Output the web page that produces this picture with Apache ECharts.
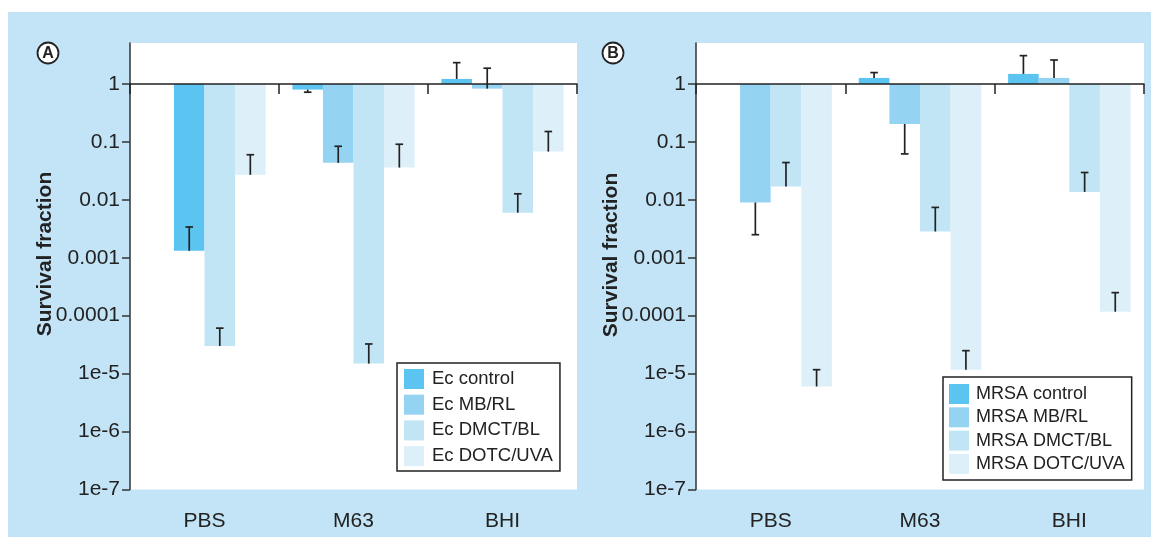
<!DOCTYPE html>
<html><head><meta charset="utf-8">
<script src="https://cdn.jsdelivr.net/npm/echarts@6/dist/echarts.min.js"></script>
<style>html,body{margin:0;padding:0;background:#fff}#c{width:1159px;height:543px}</style>
</head><body><div id="c"></div>
<script>
// ---- data ----
const categories = ['PBS', 'M63', 'BHI'];
const yTickValues = [1e-7, 1e-6, 1e-5, 1e-4, 1e-3, 1e-2, 1e-1, 1];
const yTickLabels = ['1e-7', '1e-6', '1e-5', '0.0001', '0.001', '0.01', '0.1', '1'];
const seriesNamesA = ['Ec control', 'Ec MB/RL', 'Ec DMCT/BL', 'Ec DOTC/UVA'];
const seriesNamesB = ['MRSA control', 'MRSA MB/RL', 'MRSA DMCT/BL', 'MRSA DOTC/UVA'];
const yTitle = 'Survival fraction';

// Panel A survival fractions (PBS, M63, BHI)
const ecControl = [null, 0.80, 1.22];
const ecMBRL    = [0.00132, 0.0435, 0.83];
const ecDMCT    = [3.0e-5, 1.49e-5, 0.0060];
const ecDOTC    = [0.027, 0.036, 0.068];
// Panel A error-bar end values
const ecControlErr = [null, 0.72, 2.33];
const ecMBRLErr    = [0.0034, 0.084, 1.87];
const ecDMCTErr    = [6.1e-5, 3.25e-5, 0.0127];
const ecDOTCErr    = [0.060, 0.091, 0.151];

// Panel B survival fractions (PBS, M63, BHI)
const mrsaControl = [null, 1.27, 1.49];
const mrsaMBRL    = [0.0090, 0.204, 1.27];
const mrsaDMCT    = [0.0170, 0.00284, 0.0137];
const mrsaDOTC    = [6.0e-6, 1.17e-5, 1.17e-4];
// Panel B error-bar end values
const mrsaControlErr = [null, 1.57, 3.08];
const mrsaMBRLErr    = [0.0025, 0.062, 2.59];
const mrsaDMCTErr    = [0.044, 0.0074, 0.0296];
const mrsaDOTCErr    = [1.17e-5, 2.49e-5, 2.5e-4];

// ---- styling / layout ----
const colors = ['#5bc4f0', '#95d3f3', '#c2e5f6', '#ddf0fa'];
const FONT = '"Liberation Sans", Arial, sans-serif';
const INK = '#222';
const Y_MIN = 1e-7, Y_MAX = 5.09;
const GRID_TOP = 43, GRID_H = 446.5;
const CAT_GAP = 0.18;
const grids = [
  { left: 130, top: GRID_TOP, width: 447, height: GRID_H },
  { left: 696, top: GRID_TOP, width: 448, height: GRID_H }
];
const baseOffset = -GRID_H * Math.log10(Y_MAX) / (Math.log10(Y_MAX) - Math.log10(Y_MIN));

const panels = [
  { names: seriesNamesA, vals: [ecControl, ecMBRL, ecDMCT, ecDOTC], errs: [ecControlErr, ecMBRLErr, ecDMCTErr, ecDOTCErr] },
  { names: seriesNamesB, vals: [mrsaControl, mrsaMBRL, mrsaDMCT, mrsaDOTC], errs: [mrsaControlErr, mrsaMBRLErr, mrsaDMCTErr, mrsaDOTCErr] }
];

function fmtY(v) {
  let best = 0, bd = Infinity;
  yTickValues.forEach((t, i) => { const d = Math.abs(Math.log10(t) - Math.log10(v)); if (d < bd) { bd = d; best = i; } });
  return yTickLabels[best];
}

const xAxis = [], yAxis = [], series = [];
grids.forEach((g, gi) => {
  xAxis.push({
    type: 'category', gridIndex: gi, data: categories, position: 'bottom',
    axisLine: { show: false }, axisTick: { show: false },
    axisLabel: { fontSize: 21, color: INK, fontFamily: FONT, margin: 21 }
  });
  xAxis.push({
    type: 'category', gridIndex: gi, data: categories, position: 'top', offset: baseOffset,
    axisLine: { show: true, lineStyle: { color: INK, width: 1.5 } },
    axisTick: { show: true, inside: true, length: 10, lineStyle: { color: INK, width: 1.5 } },
    axisLabel: { show: false }, z: 5
  });
  yAxis.push({
    type: 'log', logBase: 10, gridIndex: gi, min: Y_MIN, max: Y_MAX,
    axisLine: { show: true, lineStyle: { color: '#333', width: 1.5 } },
    axisTick: { show: true, length: 8, customValues: yTickValues, lineStyle: { color: '#333', width: 1.5 } },
    axisLabel: { customValues: yTickValues, formatter: fmtY, fontSize: 21, color: INK, fontFamily: FONT, margin: 10 },
    splitLine: { show: false }
  });
});

panels.forEach((p, gi) => {
  const n = p.names.length;
  p.names.forEach((name, si) => {
    series.push({
      type: 'bar', name: name, xAxisIndex: gi * 2, yAxisIndex: gi,
      barGap: '0%', barCategoryGap: (CAT_GAP * 100) + '%',
      itemStyle: { color: colors[si] },
      data: p.vals[si].map((v, ci) => {
        if (v == null) return null;
        // In panel A the PBS bar in the MB/RL slot is drawn in the control colour
        if (gi === 0 && si === 1 && ci === 0) return { value: v, itemStyle: { color: colors[0] } };
        return v;
      }),
      z: 2
    });
  });
  p.names.forEach((name, si) => {
    const d = [];
    p.vals[si].forEach((v, ci) => { if (v != null && p.errs[si][ci] != null) d.push([ci, v, p.errs[si][ci]]); });
    series.push({
      type: 'custom', name: name + ' err', xAxisIndex: gi * 2, yAxisIndex: gi, z: 4,
      encode: { x: 0, y: 1 }, silent: true,
      renderItem: function (params, api) {
        const cat = api.value(0), v = api.value(1), e = api.value(2);
        const catW = api.size([1, 0])[0];
        const slot = catW * (1 - CAT_GAP) / n;
        const p0 = api.coord([cat, v]);
        const p1 = api.coord([cat, e]);
        const x = p0[0] + (si - (n - 1) / 2) * slot;
        const st = { stroke: INK, lineWidth: 1.7 };
        return { type: 'group', children: [
          { type: 'line', shape: { x1: x, y1: p0[1], x2: x, y2: p1[1] }, style: st },
          { type: 'line', shape: { x1: x - 3.8, y1: p1[1], x2: x + 3.8, y2: p1[1] }, style: st }
        ] };
      },
      data: d
    });
  });
});

const legendCommon = {
  orient: 'vertical', icon: 'rect', itemWidth: 20, itemHeight: 20,
  borderColor: INK, borderWidth: 1.5, backgroundColor: '#fff', borderRadius: 0,
  selectedMode: false
};

const option = {
  backgroundColor: '#fff',
  animation: false,
  grid: grids.map(g => Object.assign({ show: true, backgroundColor: '#fff', borderWidth: 0 }, g)),
  xAxis: xAxis, yAxis: yAxis, series: series,
  legend: [
    Object.assign({}, legendCommon, { data: seriesNamesA, left: 397, top: 363, itemGap: 5.7, padding: [6, 7, 5, 7],
      textStyle: { fontSize: 18.5, color: INK, fontFamily: FONT, padding: [0, 0, 0, 3] } }),
    Object.assign({}, legendCommon, { data: seriesNamesB, left: 943, top: 377, itemGap: 3.3, padding: [7, 7, 6, 6],
      textStyle: { fontSize: 18, color: INK, fontFamily: FONT, padding: [0, 0, 0, 2] } })
  ],
  graphic: [
    { type: 'rect', shape: { x: 8, y: 12, width: 1143, height: 525 }, style: { fill: '#c3e4f6' }, z: -10, silent: true },
    { type: 'text', x: 45, y: 254, rotation: Math.PI / 2, style: { text: yTitle, font: 'bold 21px ' + FONT, fill: INK, align: 'center', verticalAlign: 'middle' } },
    { type: 'text', x: 611, y: 255, rotation: Math.PI / 2, style: { text: yTitle, font: 'bold 21px ' + FONT, fill: INK, align: 'center', verticalAlign: 'middle' } },
    { type: 'circle', shape: { cx: 48, cy: 53, r: 10.5 }, style: { fill: '#fff', stroke: INK, lineWidth: 1.8 } },
    { type: 'text', x: 48, y: 54, style: { text: 'A', font: 'bold 16px ' + FONT, fill: INK, align: 'center', verticalAlign: 'middle' } },
    { type: 'circle', shape: { cx: 613, cy: 53, r: 10.5 }, style: { fill: '#fff', stroke: INK, lineWidth: 1.8 } },
    { type: 'text', x: 613, y: 54, style: { text: 'B', font: 'bold 16px ' + FONT, fill: INK, align: 'center', verticalAlign: 'middle' } }
  ]
};

const chart = echarts.init(document.getElementById('c'), null, { renderer: 'canvas' });
chart.setOption(option);
</script>
</body></html>
